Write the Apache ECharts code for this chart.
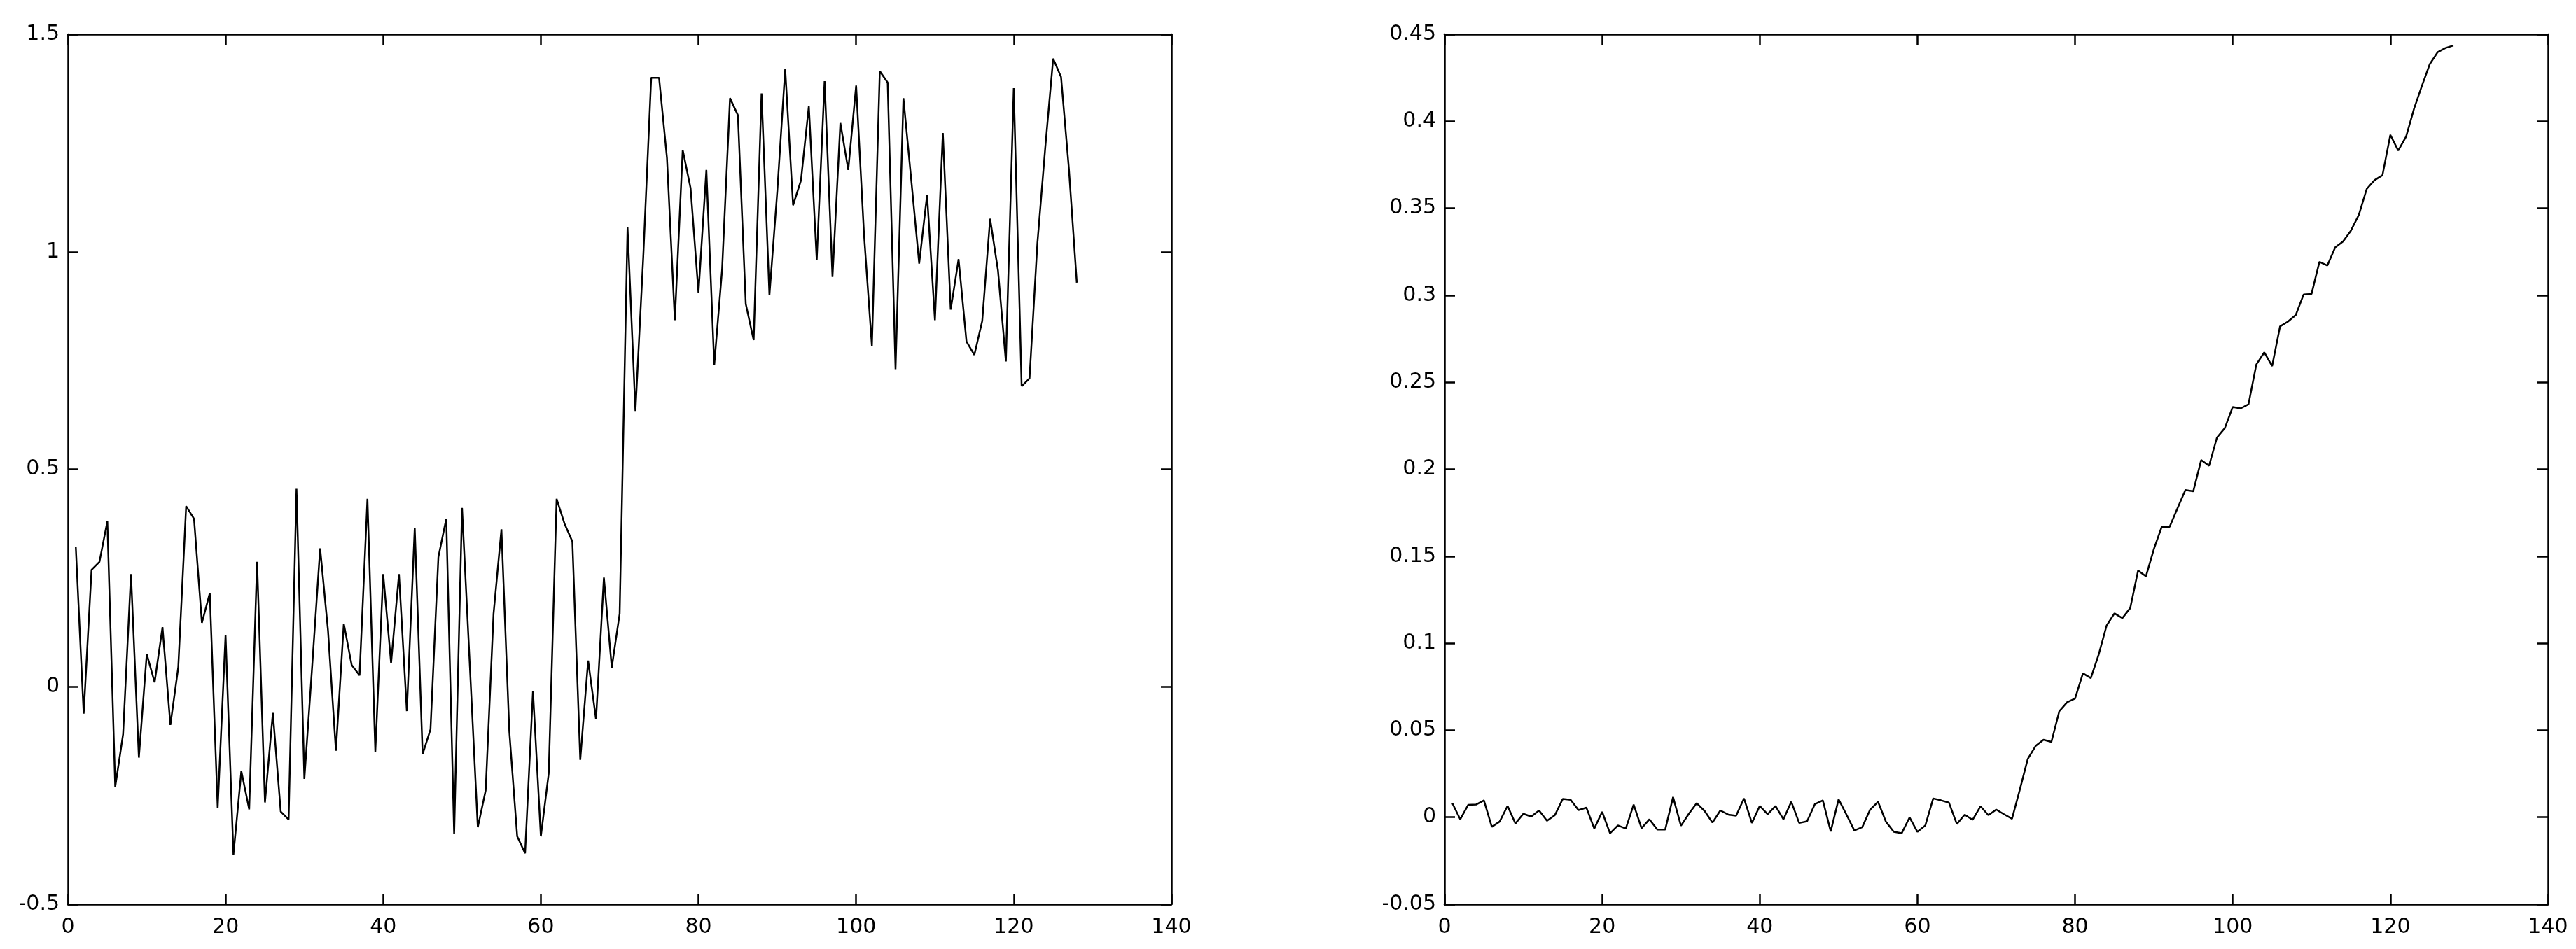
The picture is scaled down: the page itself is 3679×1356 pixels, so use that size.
<!DOCTYPE html>
<html>
<head>
<meta charset="utf-8">
<script src="https://cdn.jsdelivr.net/npm/echarts@6/dist/echarts.min.js"></script>
<style>
html,body{margin:0;padding:0;background:#fff;}
#chart{width:3679px;height:1356px;}
</style>
</head>
<body>
<div id="chart"></div>
<script>
// Left panel: noisy step signal (samples 1..128)
var leftValues = [
 0.321,-0.062,0.269,0.287,0.380,-0.230,-0.109,0.259,-0.163,0.075,
 0.010,0.137,-0.088,0.045,0.415,0.386,0.147,0.215,-0.279,0.119,
 -0.386,-0.194,-0.282,0.287,-0.266,-0.060,-0.287,-0.305,0.455,-0.212,
 0.050,0.318,0.129,-0.147,0.145,0.050,0.026,0.432,-0.149,0.259,
 0.054,0.259,-0.056,0.365,-0.155,-0.098,0.298,0.386,-0.339,0.411,
 0.045,-0.323,-0.238,0.168,0.362,-0.103,-0.344,-0.383,-0.010,-0.344,
 -0.199,0.432,0.375,0.334,-0.168,0.060,-0.075,0.251,0.044,0.168,
 1.056,0.634,0.990,1.400,1.400,1.216,0.843,1.234,1.146,0.906,
 1.188,0.740,0.960,1.353,1.314,0.880,0.797,1.364,0.900,1.140,
 1.420,1.107,1.164,1.335,0.981,1.392,0.942,1.296,1.188,1.382,
 1.040,0.784,1.415,1.389,0.730,1.353,1.164,0.973,1.131,0.843,
 1.273,0.867,0.983,0.794,0.763,0.841,1.076,0.957,0.748,1.376,
 0.691,0.709,1.020,1.240,1.444,1.402,1.190,0.929
];

// Right panel: flat then rising ramp (samples 1..128)
var rightValues = [
 0.0080,-0.0012,0.0071,0.0073,0.0097,-0.0055,-0.0025,0.0065,-0.0036,0.0020,
 0.0004,0.0039,-0.0020,0.0012,0.0105,0.0100,0.0041,0.0055,-0.0065,0.0031,
 -0.0092,-0.0047,-0.0065,0.0073,-0.0063,-0.0012,-0.0071,-0.0071,0.0116,-0.0049,
 0.0020,0.0081,0.0036,-0.0031,0.0039,0.0015,0.0009,0.0108,-0.0033,0.0065,
 0.0017,0.0065,-0.0012,0.0089,-0.0033,-0.0023,0.0076,0.0097,-0.0081,0.0103,
 0.0015,-0.0076,-0.0057,0.0044,0.0089,-0.0025,-0.0084,-0.0092,-0.0001,-0.0084,
 -0.0047,0.0108,0.0097,0.0084,-0.0039,0.0015,-0.0015,0.0063,0.0012,0.0044,
 0.0017,-0.0009,0.0160,0.0335,0.0410,0.0445,0.0433,0.0609,0.0661,0.0682,
 0.0827,0.0800,0.0935,0.1101,0.1172,0.1144,0.1202,0.1418,0.1385,0.1541,
 0.1669,0.1669,0.1776,0.1880,0.1873,0.2053,0.2020,0.2182,0.2237,0.2358,
 0.2350,0.2374,0.2603,0.2672,0.2593,0.2821,0.2849,0.2887,0.3005,0.3008,
 0.3192,0.3171,0.3275,0.3309,0.3372,0.3462,0.3611,0.3662,0.3690,0.3922,
 0.3832,0.3912,0.4071,0.4203,0.4328,0.4397,0.4421,0.4435
];

// Axis ranges / tick steps
var xRange = [0, 140], xStep = 20;
var leftYRange = [-0.5, 1.5], leftYStep = 0.5;
var rightYRange = [-0.05, 0.45], rightYStep = 0.05;

function toPairs(vals){ return vals.map(function(v,i){ return [i+1, v]; }); }

var FONT = {fontFamily:'DejaVu Sans', fontSize:30, color:'#000'};
var LW = 2.5;

function xAx(grid, pos, showLabel){
  return {
    type:'value', gridIndex:grid, position:pos, min:xRange[0], max:xRange[1], interval:xStep,
    axisLine:{show:true, onZero:false, lineStyle:{color:'#000', width:LW}},
    axisTick:{show:true, inside:true, length:15, lineStyle:{color:'#000', width:LW}},
    axisLabel:{show:showLabel, margin:18, fontFamily:FONT.fontFamily, fontSize:FONT.fontSize, color:'#000', lineHeight:30},
    splitLine:{show:false}
  };
}
function yAx(grid, pos, range, step, showLabel){
  return {
    type:'value', gridIndex:grid, position:pos, min:range[0], max:range[1], interval:step,
    axisLine:{show:true, onZero:false, lineStyle:{color:'#000', width:LW}},
    axisTick:{show:true, inside:true, length:15, lineStyle:{color:'#000', width:LW}},
    axisLabel:{show:showLabel, margin:12, fontFamily:FONT.fontFamily, fontSize:FONT.fontSize, color:'#000'},
    splitLine:{show:false}
  };
}

var chart = echarts.init(document.getElementById('chart'), null, {renderer:'canvas'});
chart.setOption({
  animation:false,
  backgroundColor:'#fff',
  grid:[
    {left:97, top:49, width:1576, height:1243},
    {left:2063, top:49, width:1576, height:1243}
  ],
  xAxis:[
    xAx(0,'bottom',true), xAx(0,'top',false),
    xAx(1,'bottom',true), xAx(1,'top',false)
  ],
  yAxis:[
    yAx(0,'left',leftYRange,leftYStep,true), yAx(0,'right',leftYRange,leftYStep,false),
    yAx(1,'left',rightYRange,rightYStep,true), yAx(1,'right',rightYRange,rightYStep,false)
  ],
  series:[
    {type:'line', xAxisIndex:0, yAxisIndex:0, data:toPairs(leftValues), showSymbol:false,
     lineStyle:{color:'#000', width:LW}, itemStyle:{color:'#000'}},
    {type:'line', xAxisIndex:2, yAxisIndex:2, data:toPairs(rightValues), showSymbol:false,
     lineStyle:{color:'#000', width:LW}, itemStyle:{color:'#000'}}
  ]
});
</script>
</body>
</html>
